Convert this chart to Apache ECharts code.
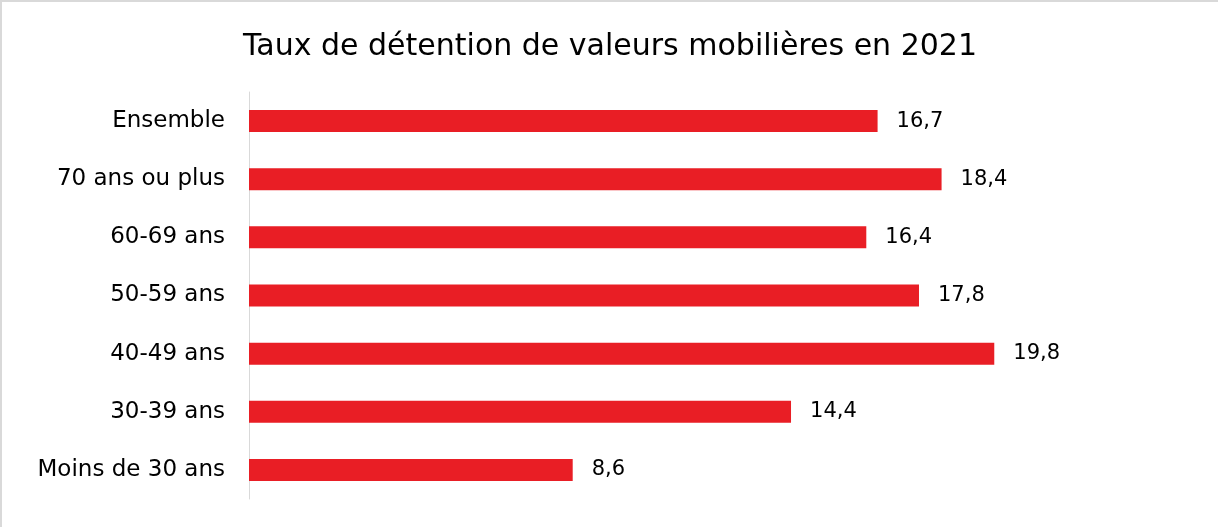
<!DOCTYPE html>
<html>
<head>
<meta charset="utf-8">
<script src="https://cdn.jsdelivr.net/npm/echarts@6/dist/echarts.min.js"></script>
<style>
  html, body { margin: 0; padding: 0; background: #fff; }
  #main {
    width: 1216px; height: 525px;
    border-top: 2px solid #d9d9d9;
    border-left: 2px solid #d9d9d9;
  }
</style>
</head>
<body>
<div id="main"></div>
<script>
// categories, top to bottom as drawn
var categories = ['Ensemble', '70 ans ou plus', '60-69 ans', '50-59 ans', '40-49 ans', '30-39 ans', 'Moins de 30 ans'];
var values = [16.7, 18.4, 16.4, 17.8, 19.8, 14.4, 8.6];
var chartTitle = 'Taux de détention de valeurs mobilières en 2021';

var myChart = echarts.init(document.getElementById('main'));

var option = {
  animation: false,
  title: {
    text: chartTitle,
    left: 'center',
    top: 25,
    textStyle: {
      fontFamily: 'DejaVu Sans',
      fontWeight: 'normal',
      fontSize: 30,
      color: '#000'
    }
  },
  grid: {
    left: 247,
    right: 28,
    top: 90,
    bottom: 28,
    containLabel: false
  },
  xAxis: {
    type: 'value',
    min: 0,
    max: 25,
    show: false
  },
  yAxis: {
    type: 'category',
    data: categories,
    inverse: true,
    axisLine: { show: true, lineStyle: { color: '#d9d9d9', width: 1 } },
    axisTick: { show: false },
    axisLabel: {
      margin: 24,
      fontFamily: 'DejaVu Sans',
      fontSize: 23,
      color: '#000'
    }
  },
  series: [{
    type: 'bar',
    data: values,
    barWidth: 22,
    itemStyle: { color: '#E91E25' },
    label: {
      show: true,
      position: 'right',
      distance: 19,
      fontFamily: 'DejaVu Sans',
      fontSize: 21,
      color: '#000',
      formatter: function (p) {
        return String(p.value).replace('.', ',');
      }
    }
  }]
};

option && myChart.setOption(option);
</script>
</body>
</html>
